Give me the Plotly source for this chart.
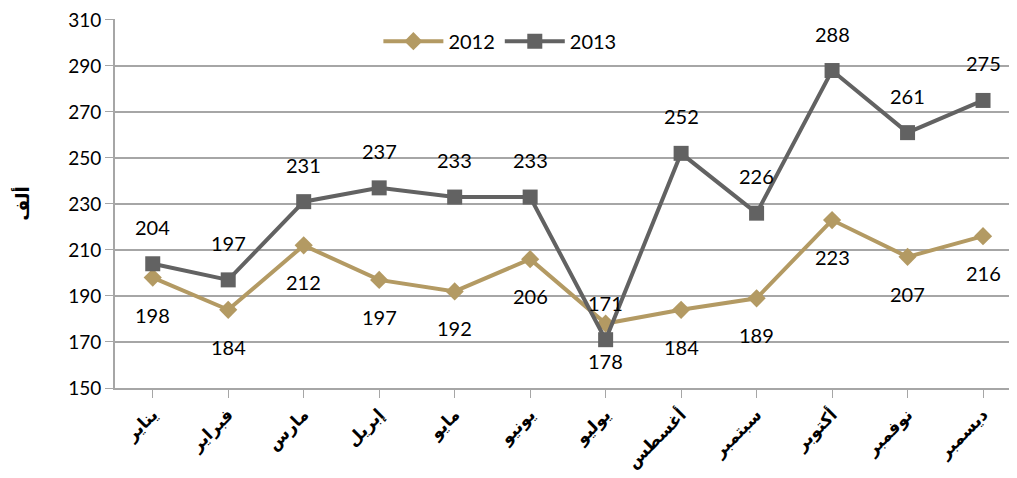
import plotly.graph_objects as go

months = ["يناير", "فبراير", "مارس", "إبريل", "مايو", "يونيو", "يوليو", "أغسطس", "سبتمبر", "أكتوبر", "نوفمبر", "ديسمبر"]
v2012 = [198, 184, 212, 197, 192, 206, 178, 184, 189, 223, 207, 216]
v2013 = [204, 197, 231, 237, 233, 233, 171, 252, 226, 288, 261, 275]
y_ticks = [150, 170, 190, 210, 230, 250, 270, 290, 310]

c2012 = "#B39A63"
c2013 = "#626262"
font_main = "Lato, 'Open Sans', sans-serif"

fig = go.Figure()
fig.add_trace(go.Scatter(x=list(range(12)), y=v2012, name="2012", mode="lines+markers",
                         line=dict(color=c2012, width=4),
                         marker=dict(symbol="diamond", size=14, color=c2012)))
fig.add_trace(go.Scatter(x=list(range(12)), y=v2013, name="2013", mode="lines+markers",
                         line=dict(color=c2013, width=4),
                         marker=dict(symbol="square", size=15, color=c2013)))

ann = []
for i, v in enumerate(v2012):
    ann.append(dict(x=i, y=v, text=str(v), showarrow=False, yshift=-37,
                    font=dict(size=20, color="black", family=font_main)))
for i, v in enumerate(v2013):
    ann.append(dict(x=i, y=v, text=str(v), showarrow=False, yshift=37,
                    font=dict(size=20, color="black", family=font_main)))
fig.update_layout(annotations=ann)

fig.update_layout(
    width=1009, height=470,
    margin=dict(l=107, r=0, t=11, b=90),
    paper_bgcolor="white", plot_bgcolor="white",
    font=dict(family=font_main, size=18, color="black"),
    showlegend=True,
    legend=dict(orientation="h", x=0.292, y=0.94, xanchor="left", yanchor="middle",
                bgcolor="white", font=dict(size=20), itemwidth=60),
    xaxis=dict(range=[-0.5, 11.45], tickmode="array", tickvals=list(range(12)), ticktext=months,
               tickangle=-45, showgrid=False, showline=True, linecolor="#A6A6A6", linewidth=2,
               ticks="outside", ticklen=8, tickcolor="#A6A6A6", tickson="boundaries",
               automargin=False, ticklabeloverflow="allow",
               tickfont=dict(size=17, family="'DejaVu Sans', sans-serif", weight="bold"), zeroline=False),
    yaxis=dict(range=[150, 310.4], tickvals=y_ticks, showgrid=True, gridcolor="#A6A6A6", gridwidth=1.5,
               showline=True, linecolor="#A6A6A6", linewidth=2, ticks="outside", ticklen=8,
               tickcolor="#A6A6A6", zeroline=False, tickfont=dict(size=19), automargin=False,
               ticklabeloverflow="allow",
               title=dict(text="<b>ألف</b>", font=dict(size=18, family="'DejaVu Sans', sans-serif"), standoff=34)),
)

fig.write_html("out.html")
